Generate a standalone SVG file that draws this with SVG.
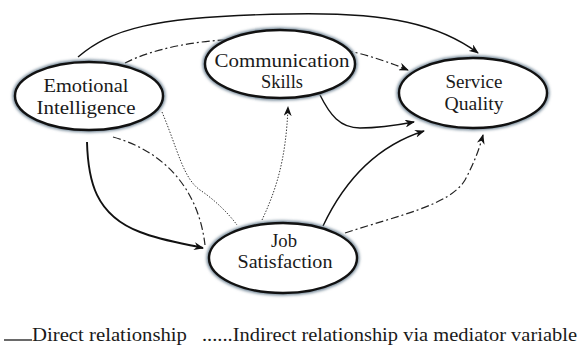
<svg xmlns="http://www.w3.org/2000/svg" width="580" height="347" viewBox="0 0 580 347">
  <defs>
    <marker id="arrow" viewBox="0 0 10 8" refX="9" refY="4" markerWidth="10" markerHeight="8" markerUnits="userSpaceOnUse" orient="auto">
      <path d="M0,0 L10,4 L0,8 L3,4 z" fill="#111"/>
    </marker>
    <filter id="halo" x="-20%" y="-30%" width="140%" height="160%">
      <feGaussianBlur stdDeviation="1.6"/>
    </filter>
    <style>
      .solid { fill: none; stroke: #111; stroke-width: 1.4; }
      .thick { stroke-width: 1.9; }
      .dashdot { fill: none; stroke: #222; stroke-width: 1.2; stroke-dasharray: 8 3 2 3; }
      .dotted { fill: none; stroke: #333; stroke-width: 1; stroke-dasharray: 1.4 1.6; }
      .halo { fill: none; stroke: #6f8494; stroke-width: 5; filter: url(#halo); }
      .shape { fill: #fff; stroke: #111; stroke-width: 2.4; }
      .label { text-anchor: middle; }
    </style>
  </defs>
  <rect width="580" height="347" fill="#fff"/>

  <g id="connectors">
    <!-- Emotional Intelligence to Service Quality, direct (top arc) -->
    <path class="solid" d="M78,57 C110,30 150,16 290,14 C390,12 440,25 478,53" marker-end="url(#arrow)"/>
    <!-- Emotional Intelligence to Service Quality via Communication Skills -->
    <path class="dashdot" d="M125,63 C180,35 300,25 408,70" marker-end="url(#arrow)"/>
    <!-- Communication Skills to Service Quality -->
    <path class="solid" d="M320,95 C330,115 340,128 360,128 C380,128 398,125 414,122" marker-end="url(#arrow)"/>
    <!-- Job Satisfaction to Service Quality -->
    <path class="solid" d="M323,226 C340,190 370,148 424,131" marker-end="url(#arrow)"/>
    <!-- Job Satisfaction to Service Quality, mediated -->
    <path class="dashdot" d="M345,233 C400,215 450,205 465,180 C474,163 479,150 483,135" marker-end="url(#arrow)"/>
    <!-- Emotional Intelligence to Job Satisfaction -->
    <path class="solid thick" d="M87,142 C88,180 95,215 140,232 C160,240 185,244 203,248" marker-end="url(#arrow)"/>
    <!-- Emotional Intelligence to Job Satisfaction, mediated -->
    <path class="dashdot" d="M113,137 C160,150 198,185 205,245"/>
    <!-- Emotional Intelligence to Job Satisfaction, indirect -->
    <path class="dotted" d="M162,112 C178,150 183,178 200,190 C215,200 229,214 237,225"/>
    <!-- Job Satisfaction to Communication Skills, indirect -->
    <path class="dotted" d="M262,220 C276,190 286,160 288,107" marker-end="url(#arrow)"/>
  </g>

  <g font-family="'Liberation Serif', 'DejaVu Serif', serif" font-size="19.5" fill="#1a1a1a">
    <g id="emotional-intelligence">
      <ellipse class="halo" cx="89" cy="96" rx="74" ry="34"/>
      <ellipse class="shape" cx="89" cy="96" rx="74" ry="34"/>
      <text class="label" x="86" y="92" textLength="85" lengthAdjust="spacingAndGlyphs">Emotional</text>
      <text class="label" x="86" y="114" textLength="99" lengthAdjust="spacingAndGlyphs">Intelligence</text>
    </g>

    <g id="communication-skills">
      <ellipse class="halo" cx="280" cy="64" rx="75" ry="34"/>
      <ellipse class="shape" cx="280" cy="64" rx="75" ry="34"/>
      <text class="label" x="282" y="67" textLength="135" lengthAdjust="spacingAndGlyphs">Communication</text>
      <text class="label" x="282" y="88" textLength="42" lengthAdjust="spacingAndGlyphs">Skills</text>
    </g>

    <g id="service-quality">
      <ellipse class="halo" cx="473" cy="93" rx="74" ry="35"/>
      <ellipse class="shape" cx="473" cy="93" rx="74" ry="35"/>
      <text class="label" x="474" y="88" textLength="57" lengthAdjust="spacingAndGlyphs">Service</text>
      <text class="label" x="474" y="110" textLength="59" lengthAdjust="spacingAndGlyphs">Quality</text>
    </g>

    <g id="job-satisfaction">
      <ellipse class="halo" cx="283" cy="258" rx="74" ry="35"/>
      <ellipse class="shape" cx="283" cy="258" rx="74" ry="35"/>
      <text class="label" x="284" y="247" textLength="26" lengthAdjust="spacingAndGlyphs">Job</text>
      <text class="label" x="285" y="268" textLength="95" lengthAdjust="spacingAndGlyphs">Satisfaction</text>
    </g>

    <g id="legend">
      <line x1="4" y1="340" x2="32" y2="340" stroke="#1a1a1a" stroke-width="1.3"/>
      <text x="32" y="341" textLength="155" lengthAdjust="spacingAndGlyphs">Direct relationship</text>
      <text x="202" y="341" textLength="375" lengthAdjust="spacingAndGlyphs">......Indirect relationship via mediator variable</text>
    </g>
  </g>
</svg>
